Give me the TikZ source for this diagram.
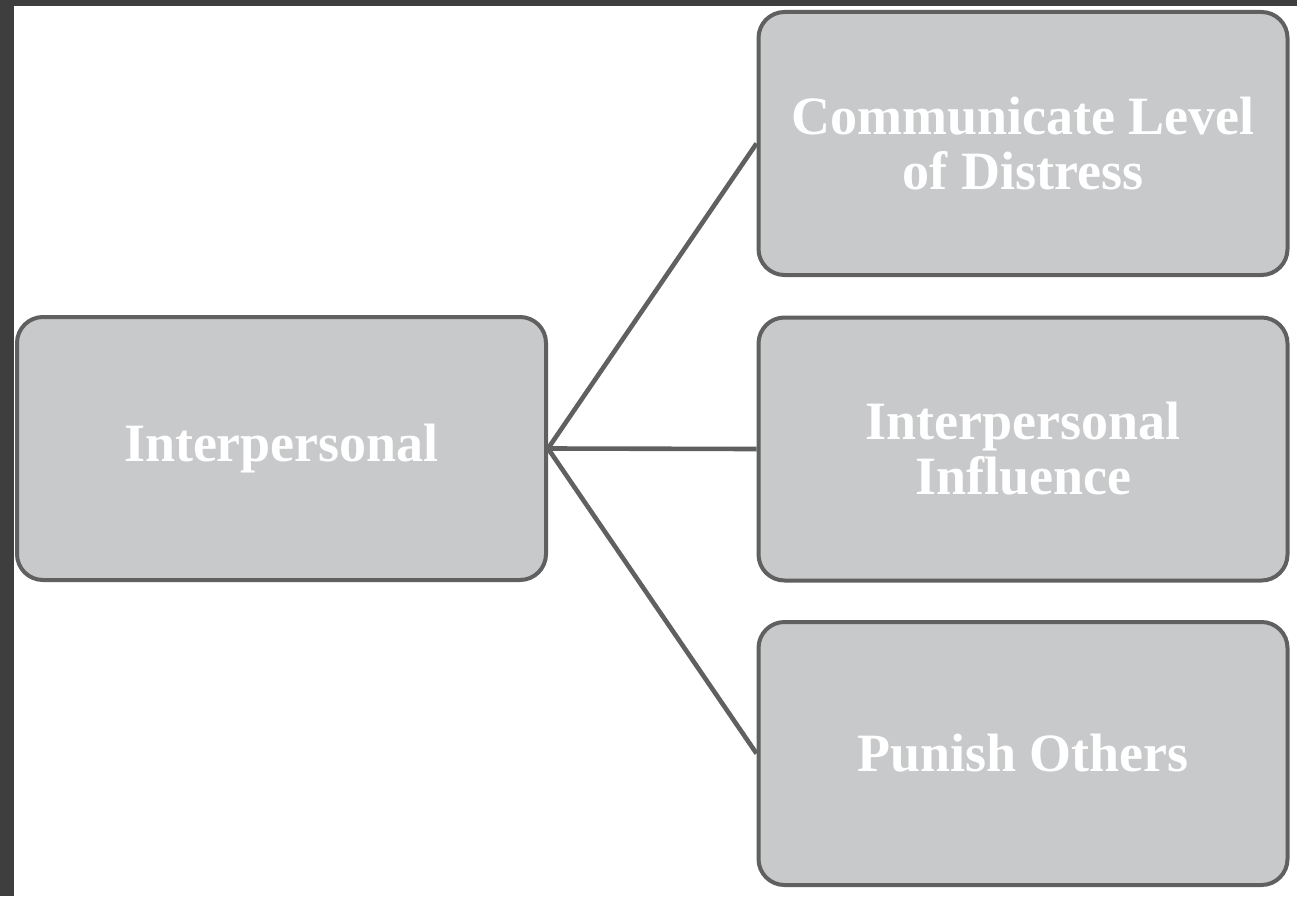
\documentclass[tikz,border=0pt]{standalone}
\usepackage{fontspec}
\setmainfont{Liberation Serif}
\definecolor{frame}{HTML}{3E3E3E}
\definecolor{boxfill}{HTML}{C8C9CB}
\definecolor{boxline}{HTML}{606060}
\begin{document}
\begin{tikzpicture}[x=1pt,y=-1pt,
  card/.style={draw=boxline, line width=4pt, fill=boxfill, rounded corners=26pt,
    minimum width=529pt, minimum height=263pt, inner sep=0pt,
    align=center, text=white, font=\fontsize{54}{55}\selectfont\bfseries},
  link/.style={draw=boxline, line width=4.6pt}]
  % dark frame along the top and left edges, white page
  \fill[frame] (0,0) rectangle (1297,896);
  \fill[white] (14,6) rectangle (1297,896);
  \useasboundingbox (0,0) rectangle (1297,896);

  \node[card] (root) at (281.5,448.5) {Interpersonal};
  \node[card] (distress) at (1023,143.5) {Communicate Level\\of Distress};
  \node[card] (influence) at (1023,449) {Interpersonal\\Influence};
  \node[card] (punish) at (1023,753.5) {Punish Others};

  \draw[link] (root.east) -- (distress.west);
  \draw[link] (root.east) -- (influence.west);
  \draw[link] (root.east) -- (punish.west);
\end{tikzpicture}
\end{document}
